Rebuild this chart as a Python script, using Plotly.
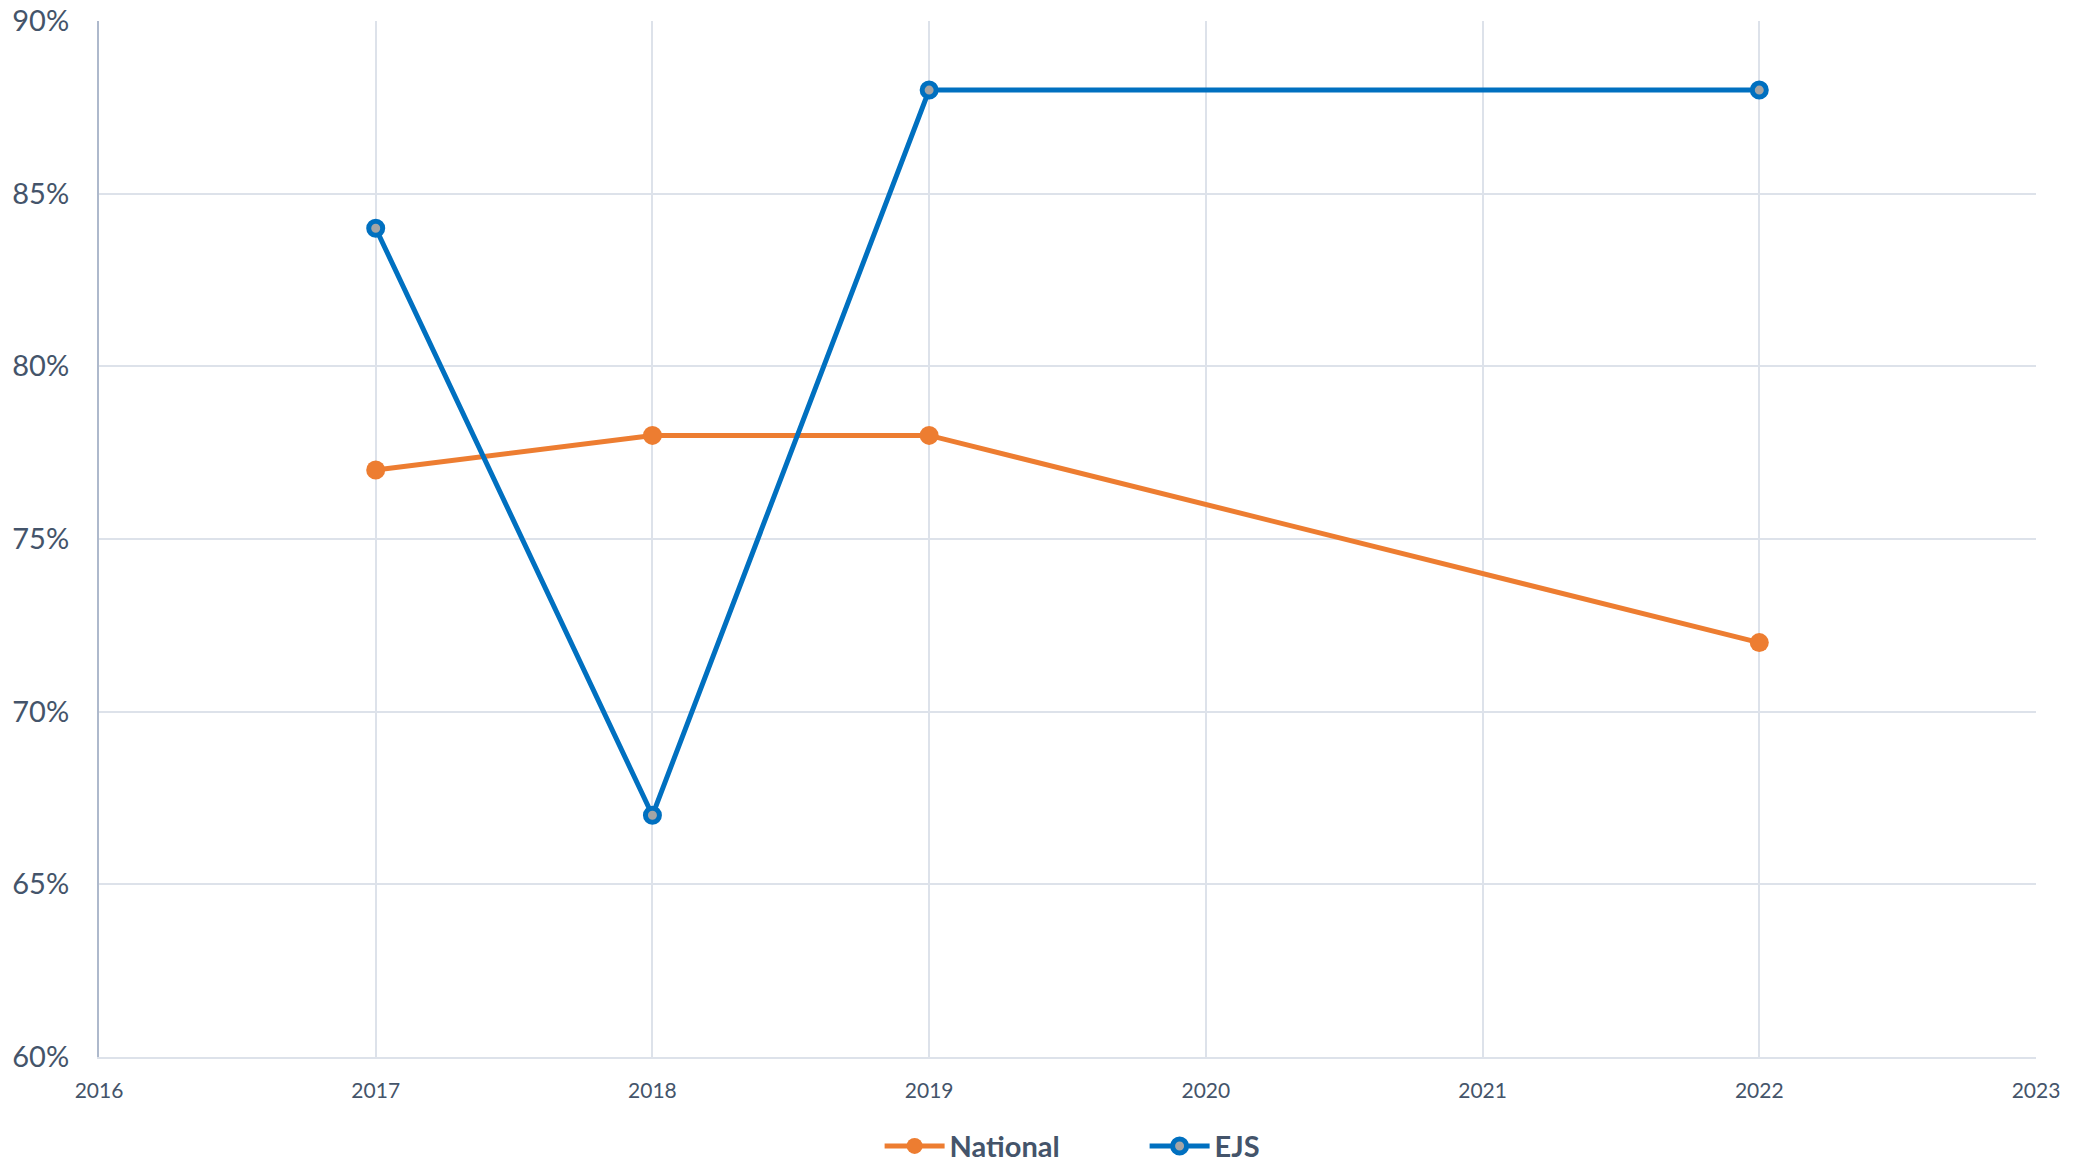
import plotly.graph_objects as go

years = [2017, 2018, 2019, 2022]
national = [77, 78, 78, 72]
ejs = [84, 67, 88, 88]
y_ticks = [60, 65, 70, 75, 80, 85, 90]
x_ticks = [2016, 2017, 2018, 2019, 2020, 2021, 2022, 2023]

ORANGE = "#ED7D31"
BLUE = "#0070C0"
TEXT = "#44546A"
GRID = "#DDE2EA"

fig = go.Figure()
fig.add_trace(go.Scatter(
    x=years, y=national, name="National", mode="lines+markers",
    line=dict(color=ORANGE, width=5),
    marker=dict(symbol="circle", size=19, color=ORANGE, line=dict(width=0)),
))
fig.add_trace(go.Scatter(
    x=years, y=ejs, name="EJS", mode="lines+markers",
    line=dict(color=BLUE, width=5),
    marker=dict(symbol="circle", size=14, color="#A5A5A5", line=dict(color=BLUE, width=5)),
))

# page body has an 8px default margin, so the figure is sized to fit the window
fig.update_layout(
    width=2058, height=1153,
    margin=dict(l=91, r=30, t=13, b=104, autoexpand=False),
    paper_bgcolor="white", plot_bgcolor="white",
    font=dict(family="Lato, 'Open Sans', sans-serif", color=TEXT),
    showlegend=True,
    legend=dict(
        orientation="h", x=0.403, xanchor="left", y=-0.086, yanchor="middle",
        font=dict(size=29, color=TEXT, family="Lato, sans-serif", weight="bold"),
        itemwidth=60, entrywidth=190, entrywidthmode="pixels",
    ),
    hovermode=False,
)
fig.update_xaxes(
    range=[2016, 2023], tickvals=x_ticks, ticktext=[str(v) for v in x_ticks],
    showgrid=True, gridcolor=GRID, gridwidth=2,
    showline=True, linecolor=GRID, linewidth=2, mirror=False, automargin=False,
    zeroline=False, ticks="", tickfont=dict(size=21, color=TEXT), ticklabelstandoff=14,
    ticklabeloverflow="allow",
)
fig.update_yaxes(
    range=[60, 90], tickvals=y_ticks, ticktext=[f"{v}%" for v in y_ticks],
    showgrid=True, gridcolor=GRID, gridwidth=2, automargin=False,
    showline=True, linecolor="#AEB9CC", linewidth=2,
    zeroline=False, ticks="", tickfont=dict(size=29, color=TEXT), ticklabelstandoff=22,
    ticklabeloverflow="allow",
)

fig.write_html("out.html")
